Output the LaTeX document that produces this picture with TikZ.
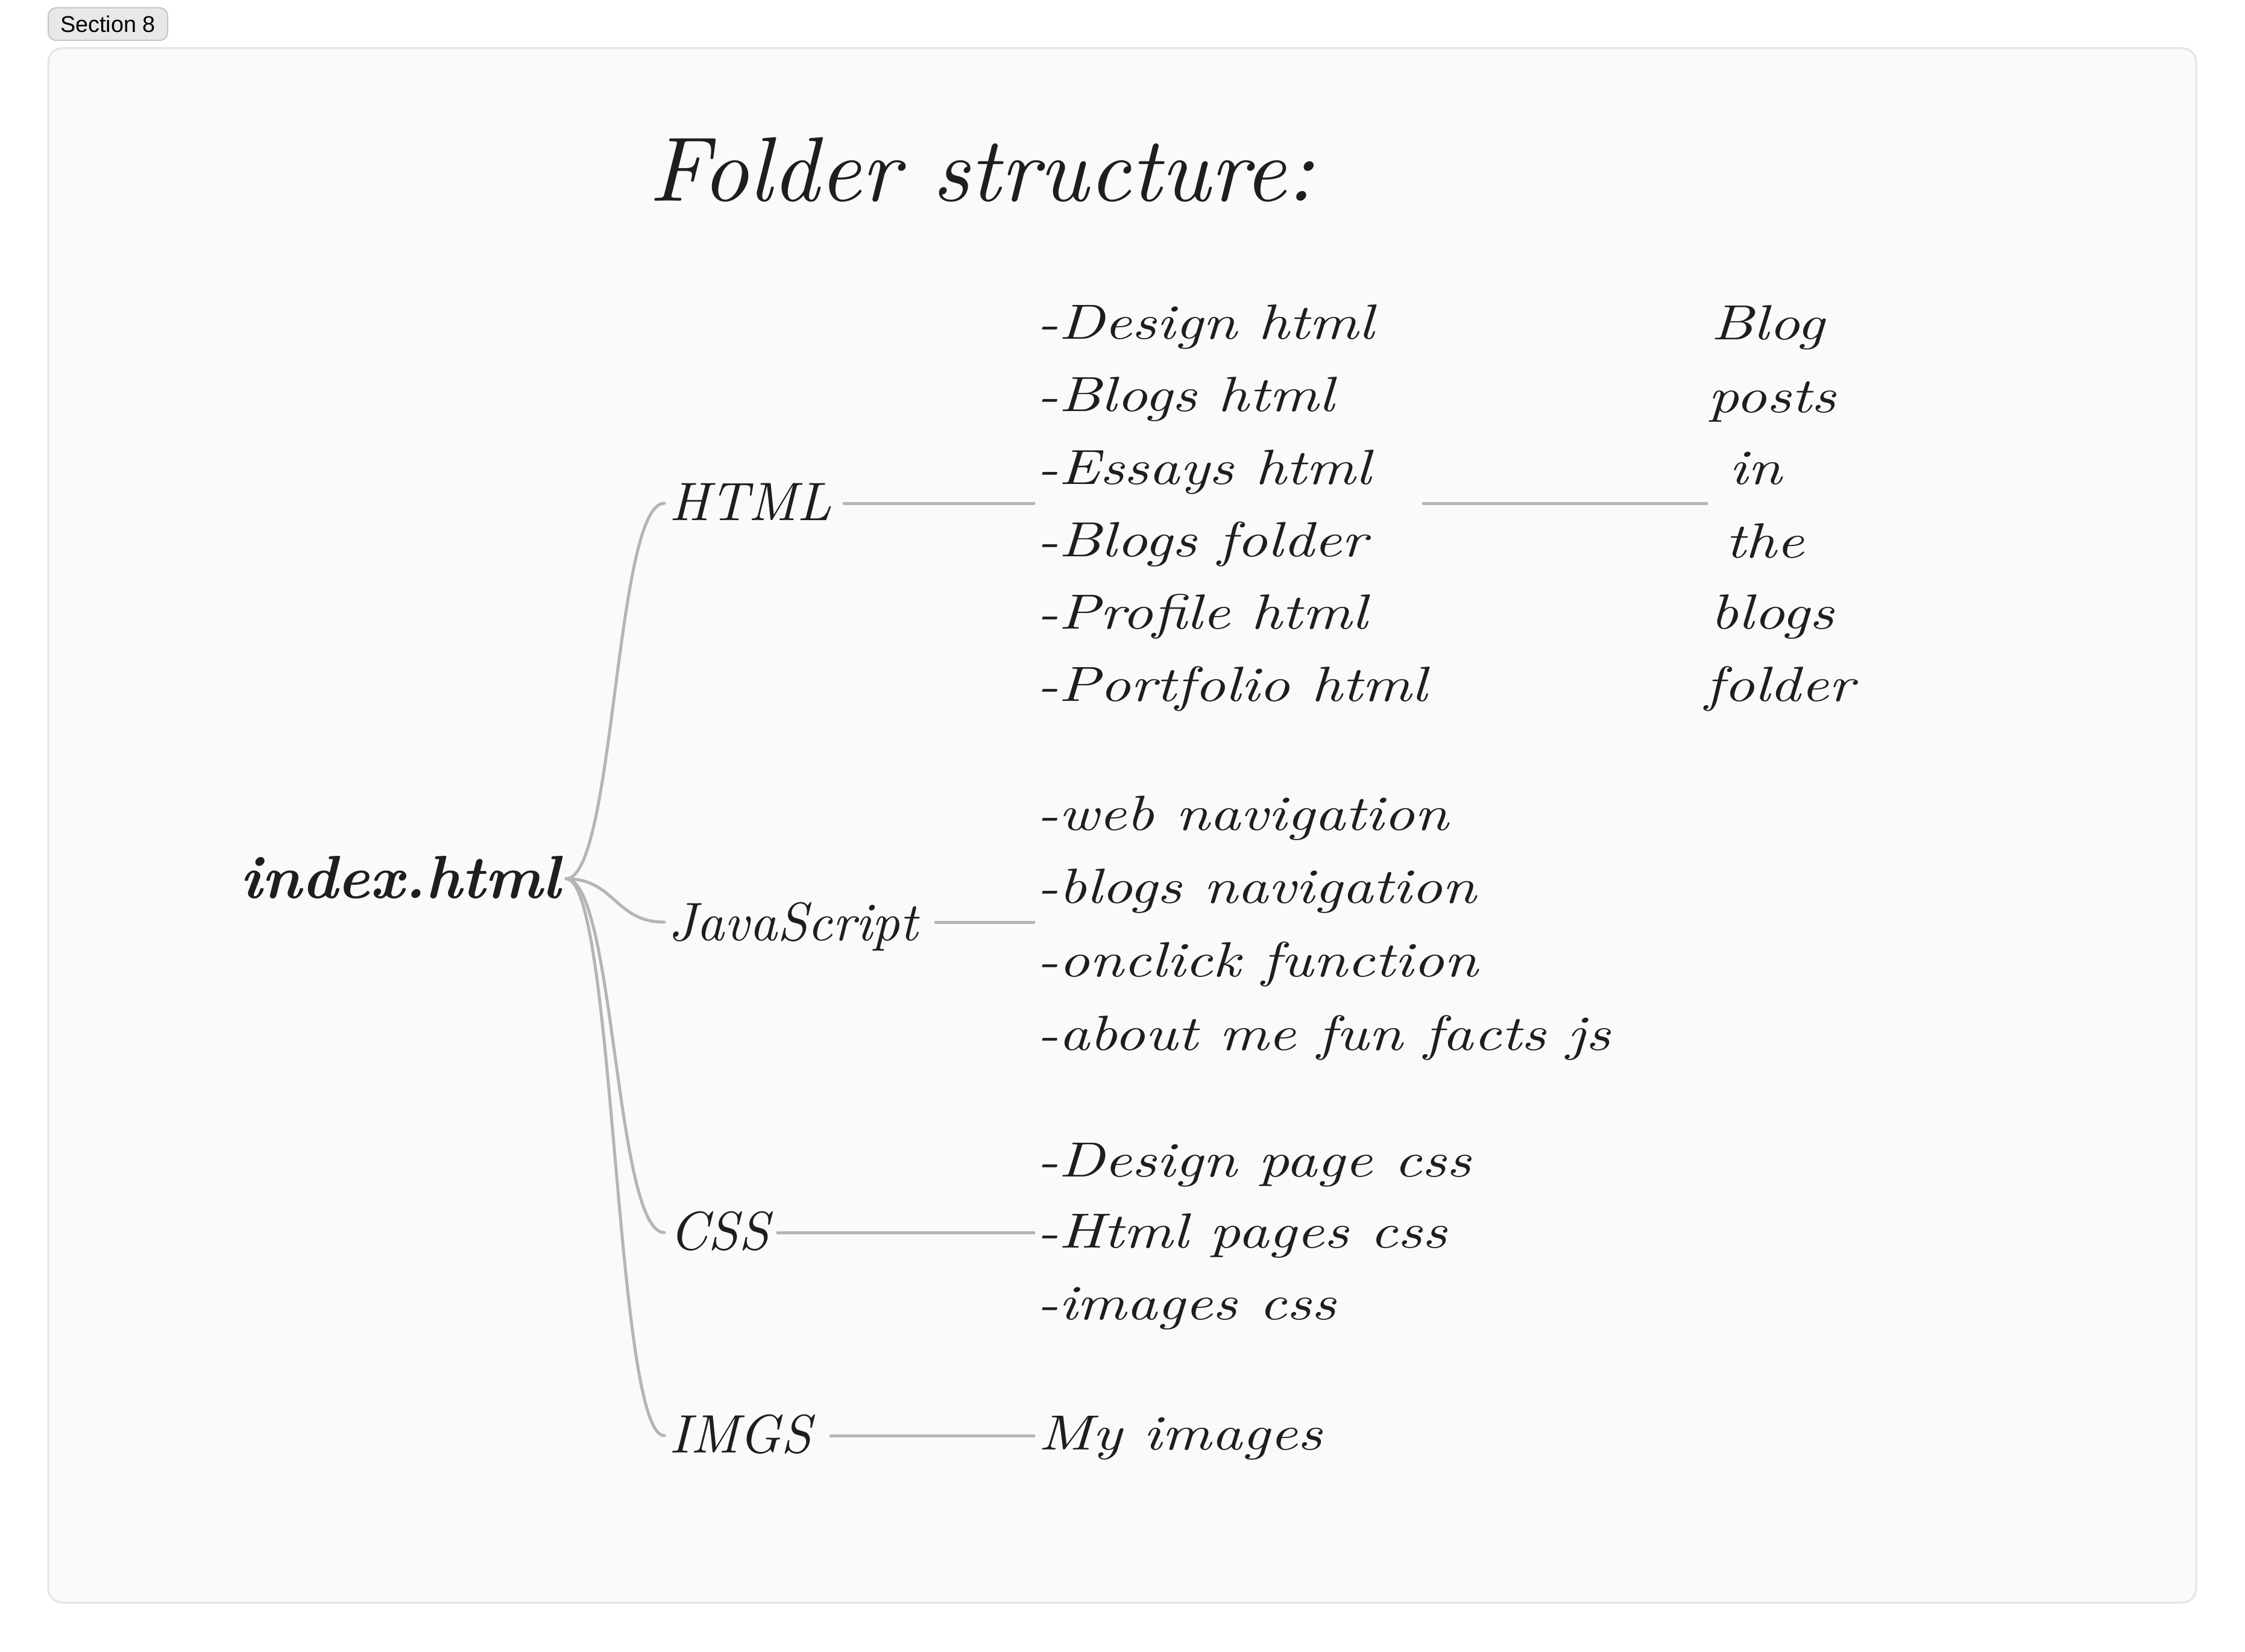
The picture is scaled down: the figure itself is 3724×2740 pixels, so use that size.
\documentclass[tikz,border=0pt]{standalone}
\usepackage{fontspec}
\newfontfamily\badgefont{Liberation Sans}
\newfontfamily\handwide{lmroman10-italic.otf}[FakeStretch=1.22]
\newfontfamily\handplain{lmroman10-italic.otf}
\newfontfamily\handbold{lmroman10-bolditalic.otf}

\definecolor{ink}{HTML}{1E1E1E}
\definecolor{linkgray}{HTML}{B5B5B5}
\definecolor{panelfill}{HTML}{FAFAFA}
\definecolor{panelline}{HTML}{E4E4E4}
\definecolor{badgefill}{HTML}{E8E8E8}
\definecolor{badgeline}{HTML}{C6C6C6}

\begin{document}
\begin{tikzpicture}[x=0.5pt,y=-0.5pt,
  txt/.style={anchor=base west, inner sep=0pt, text=ink},
  itemtxt/.style={txt, font=\handwide\fontsize{41}{41}\selectfont},
  cattxt/.style={txt, font=\handplain\fontsize{45}{45}\selectfont},
  link/.style={draw=linkgray, line width=2.5pt, line cap=round}]

% page and panel
\useasboundingbox[fill=white] (0,0) rectangle (3724,2740);
\draw[fill=panelfill, draw=panelline, line width=1.5pt, rounded corners=11.5pt]
  (80,80) rectangle (3643,2659);

% section badge
\node[draw=badgeline, fill=badgefill, line width=1pt, rounded corners=6.5pt,
      minimum width=99pt, minimum height=27pt, inner sep=0pt,
      font=\badgefont\fontsize{18.9}{18.9}\selectfont, text=black]
  (badge) at (179,40) {Section 8};

% title
\node[txt, font=\handplain\fontsize{76}{76}\selectfont] (ttl) at (1076,333) {Folder structure:};

% root
\node[txt, font=\handbold\fontsize{50.5}{50.5}\selectfont] (root) at (398,1490) {index.html};

% categories
\node[cattxt] (html) at (1110,863) {HTML};
\node[cattxt] (js)   at (1108,1560) {JavaScript};
\node[cattxt] (css)  at (1110,2073) {CSS};
\node[cattxt] (imgs) at (1110,2410) {IMGS};

% HTML files
\node[itemtxt] (h1) at (1720,562)  {-Design html};
\node[itemtxt] (h2) at (1720,682)  {-Blogs html};
\node[itemtxt] (h3) at (1720,803)  {-Essays html};
\node[itemtxt] (h4) at (1720,923)  {-Blogs folder};
\node[itemtxt] (h5) at (1720,1043) {-Profile html};
\node[itemtxt] (h6) at (1720,1163) {-Portfolio html};

% note on the blogs folder
\node[itemtxt] (b1) at (2838,563)  {Blog};
\node[itemtxt] (b2) at (2833,684)  {posts};
\node[itemtxt] (b3) at (2868,803)  {in};
\node[itemtxt] (b4) at (2862,925)  {the};
\node[itemtxt] (b5) at (2837,1043) {blogs};
\node[itemtxt] (b6) at (2828,1163) {folder};

% JavaScript files
\node[itemtxt] (j1) at (1720,1377) {-web navigation};
\node[itemtxt] (j2) at (1720,1498) {-blogs navigation};
\node[itemtxt] (j3) at (1720,1620) {-onclick function};
\node[itemtxt] (j4) at (1720,1742) {-about me fun facts js};

% CSS files
\node[itemtxt] (c1) at (1720,1952) {-Design page css};
\node[itemtxt] (c2) at (1720,2070) {-Html pages css};
\node[itemtxt] (c3) at (1720,2189) {-images css};

% image folder
\node[itemtxt] (m1) at (1722,2405) {My images};

% connector end points
\coordinate (rootR) at (939,1458);
\coordinate (htmlL) at (1102,835);
\coordinate (jsL)   at (1102,1530);
\coordinate (cssL)  at (1102,2045);
\coordinate (imgsL) at (1102,2382);
\coordinate (htmlR) at (1400,835);
\coordinate (jsR)   at (1552,1530);
\coordinate (cssR)  at (1290,2045);
\coordinate (imgsR) at (1378,2382);
\coordinate (htmlItems) at (1715,835);
\coordinate (jsItems)   at (1715,1530);
\coordinate (cssItems)  at (1715,2045);
\coordinate (imgsItems) at (1715,2382);
\coordinate (blogsFrom) at (2361,835);
\coordinate (blogsTo)   at (2831,835);

% branches from the root
\draw[link] (rootR) .. controls (1020,1458) and (1020,835)  .. (htmlL);
\draw[link] (rootR) .. controls (1020,1458) and (1020,1530) .. (jsL);
\draw[link] (rootR) .. controls (1020,1458) and (1020,2045) .. (cssL);
\draw[link] (rootR) .. controls (1020,1458) and (1020,2382) .. (imgsL);

% category to file lists
\draw[link] (htmlR) -- (htmlItems);
\draw[link] (jsR)   -- (jsItems);
\draw[link] (cssR)  -- (cssItems);
\draw[link] (imgsR) -- (imgsItems);
\draw[link] (blogsFrom) -- (blogsTo);
\end{tikzpicture}
\end{document}
